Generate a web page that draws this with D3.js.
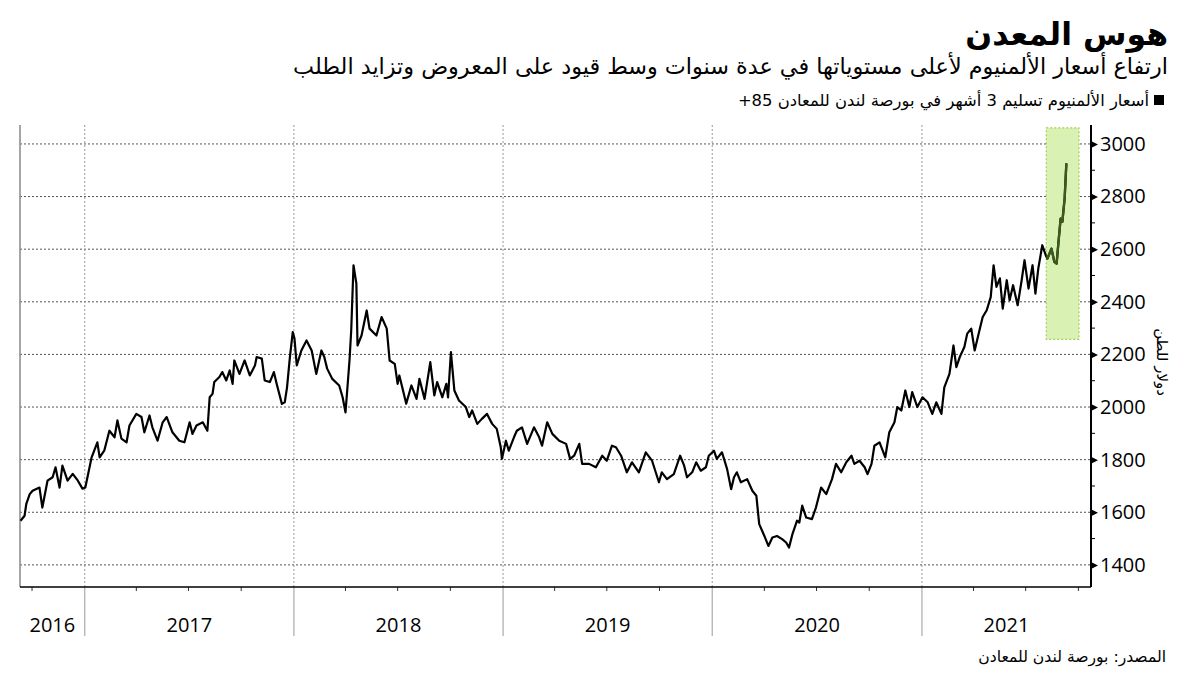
<!DOCTYPE html>
<html>
<head>
<meta charset="utf-8">
<script src="https://cdn.jsdelivr.net/npm/d3@7"></script>
<style>
body { margin: 0; background: #fff; }
</style>
</head>
<body>
<script>
// LME 3-month aluminium, USD/t
var priceDates = ["2016-09-11","2016-09-18","2016-09-21","2016-09-27","2016-10-02","2016-10-14","2016-10-19","2016-10-28","2016-11-06","2016-11-11","2016-11-18","2016-11-23","2016-12-02","2016-12-11","2016-12-20","2016-12-28",
"2017-01-02","2017-01-13","2017-01-23","2017-01-27","2017-02-04","2017-02-13","2017-02-22","2017-02-27","2017-03-06","2017-03-15","2017-03-20","2017-04-01","2017-04-10","2017-04-15","2017-04-24","2017-04-29","2017-05-08","2017-05-17","2017-05-24","2017-06-03","2017-06-15","2017-06-24","2017-07-03","2017-07-08","2017-07-15","2017-07-26","2017-08-03","2017-08-07","2017-08-12","2017-08-15","2017-08-24","2017-08-29","2017-09-05","2017-09-11","2017-09-16","2017-09-19","2017-09-28","2017-10-07","2017-10-16","2017-10-25","2017-10-28","2017-11-06","2017-11-11","2017-11-20","2017-11-27","2017-12-02","2017-12-11","2017-12-16","2017-12-20","2017-12-25","2017-12-30",
"2018-01-02","2018-01-06","2018-01-14","2018-01-23","2018-02-01","2018-02-09","2018-02-18","2018-02-23","2018-02-28","2018-03-09","2018-03-21","2018-03-27","2018-04-01","2018-04-04","2018-04-08","2018-04-11","2018-04-15","2018-04-20","2018-04-22","2018-04-29","2018-05-08","2018-05-13","2018-05-25","2018-06-03","2018-06-12","2018-06-17","2018-06-26","2018-07-01","2018-07-04","2018-07-16","2018-07-25","2018-08-03","2018-08-08","2018-08-17","2018-08-27","2018-09-03","2018-09-08","2018-09-17","2018-09-24","2018-09-27","2018-10-02","2018-10-08","2018-10-16","2018-10-28","2018-11-03","2018-11-08","2018-11-17","2018-11-25","2018-12-04","2018-12-13","2018-12-21","2018-12-28","2018-12-30",
"2019-01-06","2019-01-11","2019-01-20","2019-01-25","2019-02-03","2019-02-12","2019-02-24","2019-03-05","2019-03-10","2019-03-19","2019-03-28","2019-04-09","2019-04-21","2019-04-28","2019-05-05","2019-05-14","2019-05-19","2019-05-31","2019-06-12","2019-06-23","2019-07-01","2019-07-10","2019-07-17","2019-07-26","2019-08-05","2019-08-14","2019-08-26","2019-09-07","2019-09-18","2019-09-30","2019-10-05","2019-10-14","2019-10-26","2019-11-06","2019-11-13","2019-11-18","2019-11-27","2019-12-04","2019-12-12","2019-12-21","2019-12-26",
"2020-01-04","2020-01-09","2020-01-18","2020-01-27","2020-02-03","2020-02-08","2020-02-13","2020-02-20","2020-03-02","2020-03-11","2020-03-18","2020-03-23","2020-04-01","2020-04-08","2020-04-15","2020-04-23","2020-05-02","2020-05-09","2020-05-14","2020-05-20","2020-05-28","2020-06-01","2020-06-06","2020-06-13","2020-06-23","2020-06-30","2020-07-09","2020-07-18","2020-07-28","2020-08-04","2020-08-13","2020-08-22","2020-08-31","2020-09-05","2020-09-14","2020-09-23","2020-09-28","2020-10-05","2020-10-10","2020-10-19","2020-10-29","2020-11-05","2020-11-14","2020-11-19","2020-11-26","2020-12-03","2020-12-10","2020-12-15","2020-12-24",
"2021-01-02","2021-01-11","2021-01-19","2021-01-26","2021-02-04","2021-02-09","2021-02-18","2021-02-25","2021-03-02","2021-03-08","2021-03-16","2021-03-21","2021-03-28","2021-04-03","2021-04-12","2021-04-17","2021-04-24","2021-05-01","2021-05-06","2021-05-11","2021-05-17","2021-05-22","2021-05-29","2021-06-03","2021-06-09","2021-06-17","2021-06-24","2021-06-29","2021-07-06","2021-07-13","2021-07-18","2021-07-23","2021-07-30","2021-08-05","2021-08-08","2021-08-15","2021-08-20","2021-08-24","2021-08-27","2021-08-31","2021-09-03","2021-09-07","2021-09-10"];

var prices = [1568,1587,1632,1669,1682,1694,1618,1720,1733,1771,1694,1777,1720,1746,1720,1690,
1694,1809,1866,1809,1834,1910,1885,1949,1880,1866,1930,1974,1962,1904,1968,1923,1872,1942,1962,1904,1872,1866,1942,1898,1930,1942,1910,2037,2050,2095,2114,2133,2101,2139,2088,2177,2126,2177,2120,2158,2190,2184,2101,2095,2133,2088,2012,2018,2075,2190,2285,
2260,2158,2215,2253,2215,2126,2215,2190,2146,2107,2082,2037,1980,2063,2177,2291,2539,2469,2234,2272,2367,2298,2272,2342,2298,2177,2164,2088,2120,2013,2082,2031,2107,2031,2171,2044,2095,2037,2088,2037,2209,2063,2025,2000,1962,1987,1936,1955,1974,1936,1917,1847,1803,
1872,1834,1885,1910,1923,1860,1923,1885,1853,1942,1898,1872,1860,1803,1815,1860,1784,1784,1771,1815,1796,1853,1847,1815,1752,1790,1752,1828,1796,1714,1752,1726,1745,1815,1777,1733,1752,1790,1758,1771,1815,
1834,1803,1828,1764,1688,1733,1752,1714,1726,1682,1663,1555,1510,1472,1504,1510,1498,1485,1466,1517,1568,1561,1625,1580,1574,1618,1694,1669,1726,1784,1752,1790,1815,1784,1796,1771,1745,1784,1853,1866,1809,1904,1942,2000,1987,2063,2000,2057,2000,
2037,2018,1974,2018,1974,2075,2126,2234,2152,2190,2228,2279,2298,2215,2298,2342,2368,2418,2539,2457,2489,2374,2482,2406,2463,2387,2482,2558,2450,2539,2431,2526,2615,2577,2564,2602,2552,2545,2621,2716,2704,2793,2926];

var yTicks = [1400, 1600, 1800, 2000, 2200, 2400, 2600, 2800, 3000];
var yMinorTicks = [1500, 1700, 1900, 2100, 2300, 2500, 2700, 2900];
var yearLabels = ["2016", "2017", "2018", "2019", "2020", "2021"];
var xDomain = ["2016-09-10", "2021-10-23"];
var yDomain = [1316, 3072];
var highlightDates = ["2021-08-06", "2021-10-02"];
var highlightRange = [2257, 3061];

var titleText = "هوس المعدن";
var subtitleText = "ارتفاع أسعار الألمنيوم لأعلى مستوياتها في عدة سنوات وسط قيود على المعروض وتزايد الطلب";
var legendText = "أسعار الألمنيوم تسليم 3 أشهر في بورصة لندن للمعادن 85+";
var unitText = "دولار للطن";
var sourceText = "المصدر: بورصة لندن للمعادن";

var parse = d3.timeParse("%Y-%m-%d");
var data = priceDates.map(function(d, i) { return {date: parse(d), value: prices[i]}; });

var W = 1200, H = 675;
var plotLeft = 20, plotRight = 1091, plotTop = 125, plotBottom = 587;
var arFont = "'DejaVu Sans', sans-serif";
var numFont = "'Open Sans', 'DejaVu Sans', sans-serif";

var svg = d3.select("body").append("svg")
    .attr("width", W)
    .attr("height", H)
    .style("display", "block");

var x = d3.scaleTime().domain(xDomain.map(parse)).range([plotLeft, plotRight]);
var y = d3.scaleLinear().domain(yDomain).range([plotBottom, plotTop]);

// titles
svg.append("text")
    .attr("x", 1168).attr("y", 45)
    .attr("direction", "rtl").attr("text-anchor", "start")
    .attr("font-family", arFont).attr("font-weight", "bold").attr("font-size", 31.5)
    .attr("fill", "#000")
    .text(titleText);
svg.append("text")
    .attr("x", 1168).attr("y", 74)
    .attr("direction", "rtl").attr("text-anchor", "start")
    .attr("font-family", arFont).attr("font-size", 22.3)
    .attr("fill", "#000")
    .text(subtitleText);
svg.append("rect")
    .attr("x", 1154).attr("y", 95)
    .attr("width", 10).attr("height", 10)
    .attr("fill", "#000");
svg.append("text")
    .attr("x", 1149).attr("y", 106)
    .attr("direction", "rtl").attr("text-anchor", "start")
    .attr("font-family", arFont).attr("font-size", 16.4)
    .attr("fill", "#000")
    .text(legendText);

// horizontal grid
svg.append("g").selectAll("line")
    .data(yTicks)
    .join("line")
    .attr("x1", plotLeft).attr("x2", plotRight)
    .attr("y1", function(d) { return y(d); })
    .attr("y2", function(d) { return y(d); })
    .attr("stroke", "#555")
    .attr("stroke-width", 1)
    .attr("stroke-dasharray", "2,2");

// vertical year grid
var yearStarts = d3.timeYear.range(x.domain()[0], x.domain()[1]);
svg.append("g").selectAll("line")
    .data(yearStarts)
    .join("line")
    .attr("x1", function(d) { return x(d); })
    .attr("x2", function(d) { return x(d); })
    .attr("y1", plotTop).attr("y2", plotBottom)
    .attr("stroke", "#999")
    .attr("stroke-width", 1)
    .attr("stroke-dasharray", "2,2");

// highlight box
var hx0 = x(parse(highlightDates[0])), hx1 = x(parse(highlightDates[1]));
var hy0 = y(highlightRange[1]), hy1 = y(highlightRange[0]);
svg.append("rect")
    .attr("x", hx0).attr("y", hy0)
    .attr("width", hx1 - hx0).attr("height", hy1 - hy0)
    .attr("fill", "#d9f1b3")
    .attr("stroke", "#9fd050")
    .attr("stroke-width", 1.2)
    .attr("stroke-dasharray", "2,2");

svg.append("clipPath").attr("id", "hl")
  .append("rect")
    .attr("x", hx0).attr("y", 0)
    .attr("width", hx1 - hx0).attr("height", H);

// left border
svg.append("line")
    .attr("x1", plotLeft).attr("x2", plotLeft)
    .attr("y1", plotTop).attr("y2", plotBottom)
    .attr("stroke", "#888").attr("stroke-width", 1.5);

var line = d3.line()
    .x(function(d) { return x(d.date); })
    .y(function(d) { return y(d.value); });

svg.append("path")
    .datum(data)
    .attr("d", line)
    .attr("fill", "none")
    .attr("stroke", "#000")
    .attr("stroke-width", 2.2)
    .attr("stroke-linejoin", "round");

svg.append("path")
    .datum(data)
    .attr("d", line)
    .attr("clip-path", "url(#hl)")
    .attr("fill", "none")
    .attr("stroke", "#3c5a1c")
    .attr("stroke-width", 2.4)
    .attr("stroke-linejoin", "round");

// right y axis
var yAxis = d3.axisRight(y)
    .tickValues(yTicks)
    .tickSize(0)
    .tickPadding(9)
    .tickFormat(d3.format("d"));
var gy = svg.append("g")
    .attr("transform", "translate(" + plotRight + ",0)")
    .call(yAxis);
gy.select(".domain").remove();
gy.selectAll("text")
    .attr("font-family", numFont)
    .attr("font-size", 20)
    .attr("fill", "#000");
gy.selectAll(".tick").append("path")
    .attr("d", "M0,-3.5L7,0L0,3.5Z")
    .attr("fill", "#000");
svg.append("g").selectAll("line")
    .data(yMinorTicks)
    .join("line")
    .attr("x1", plotRight).attr("x2", plotRight + 4)
    .attr("y1", function(d) { return y(d); })
    .attr("y2", function(d) { return y(d); })
    .attr("stroke", "#000");

svg.append("line")
    .attr("x1", plotRight).attr("x2", plotRight)
    .attr("y1", plotTop).attr("y2", plotBottom)
    .attr("stroke", "#000").attr("stroke-width", 2);

svg.append("text")
    .attr("transform", "translate(1157,362) rotate(90)")
    .attr("text-anchor", "middle")
    .attr("font-family", arFont).attr("font-size", 15)
    .attr("fill", "#000")
    .text(unitText);

// x axis: quarter ticks, year lines and labels
var quarterTicks = d3.timeMonth.every(3).range(x.domain()[0], x.domain()[1])
    .filter(function(d) { return d.getMonth() !== 0; });
svg.append("g").selectAll("line")
    .data(quarterTicks)
    .join("line")
    .attr("x1", function(d) { return x(d); })
    .attr("x2", function(d) { return x(d); })
    .attr("y1", plotBottom).attr("y2", plotBottom + 4)
    .attr("stroke", "#333");

svg.append("g").selectAll("line")
    .data(yearStarts)
    .join("line")
    .attr("x1", function(d) { return x(d); })
    .attr("x2", function(d) { return x(d); })
    .attr("y1", plotBottom).attr("y2", 636)
    .attr("stroke", "#aaa")
    .attr("stroke-width", 1.2);

svg.append("line")
    .attr("x1", plotLeft).attr("x2", plotRight)
    .attr("y1", plotBottom).attr("y2", plotBottom)
    .attr("stroke", "#000").attr("stroke-width", 1.5);

var yearMid = yearLabels.map(function(yr) {
    var a = d3.max([parse(yr + "-01-01"), x.domain()[0]]);
    var b = d3.min([parse((+yr + 1) + "-01-01"), x.domain()[1]]);
    return (x(a) + x(b)) / 2;
});
svg.append("g").selectAll("text")
    .data(yearLabels)
    .join("text")
    .attr("x", function(d, i) { return yearMid[i]; })
    .attr("y", 632)
    .attr("text-anchor", "middle")
    .attr("font-family", numFont).attr("font-size", 20)
    .attr("fill", "#000")
    .text(function(d) { return d; });

svg.append("text")
    .attr("x", 1166).attr("y", 662)
    .attr("direction", "rtl").attr("text-anchor", "start")
    .attr("font-family", arFont).attr("font-size", 15.6)
    .attr("fill", "#000")
    .text(sourceText);
</script>
</body>
</html>
